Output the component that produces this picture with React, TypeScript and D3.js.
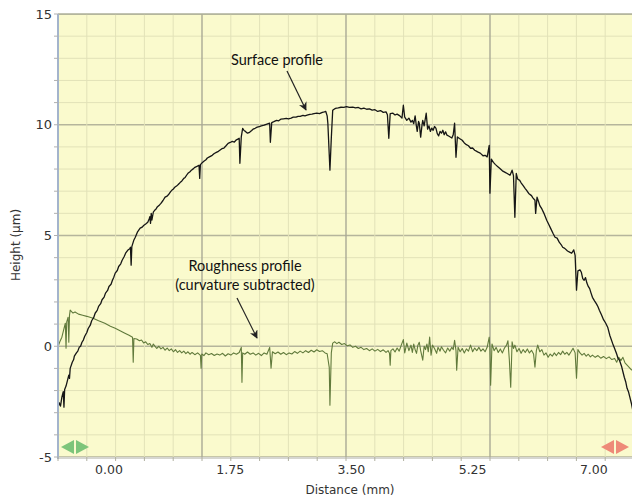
import React from "react";
import * as d3 from "d3";

const yTickValues = [-5, 0, 5, 10, 15];
const xTickValues = [0, 1.75, 3.5, 5.25, 7.0];
const xTitle = "Distance (mm)";
const yTitle = "Height (µm)";
const surfaceLabel = "Surface profile";
const roughLabel1 = "Roughness profile";
const roughLabel2 = "(curvature subtracted)";

// [distance mm, height µm]
const surfaceProfile: [number, number][] = [
  [-0.74,-2.85],[-0.72,-2.55],[-0.70,-2.70],[-0.68,-2.30],[-0.66,-2.05],[-0.65,-2.75],[-0.64,-1.95],[-0.62,-1.80],
  [-0.60,-1.55],[-0.58,-1.30],[-0.57,-1.45],[-0.56,-1.00],[-0.53,-0.72],[-0.51,-0.60],[-0.50,-0.45],[-0.47,-0.30],
  [-0.45,-0.22],[-0.43,-0.05],[-0.41,0.00],[-0.39,0.18],[-0.37,0.28],[-0.35,0.45],[-0.32,0.62],[-0.30,0.80],
  [-0.27,0.95],[-0.25,1.15],[-0.22,1.30],[-0.20,1.49],[-0.17,1.62],[-0.15,1.80],[-0.12,1.92],[-0.10,2.10],
  [-0.07,2.22],[-0.05,2.40],[-0.02,2.52],[0.00,2.70],[0.03,2.80],[0.05,2.98],[0.07,3.12],[0.09,3.30],
  [0.12,3.42],[0.14,3.60],[0.17,3.72],[0.19,3.88],[0.22,4.05],[0.24,4.20],[0.27,4.33],[0.30,4.40],
  [0.31,4.47],[0.32,3.66],[0.33,4.50],[0.36,4.80],[0.38,4.92],[0.41,5.15],[0.45,5.33],[0.48,5.38],
  [0.50,5.45],[0.53,5.52],[0.56,5.60],[0.58,5.75],[0.59,5.85],[0.60,5.55],[0.61,6.00],[0.62,5.70],
  [0.64,6.05],[0.66,6.14],[0.68,6.20],[0.70,6.30],[0.73,6.38],[0.75,6.45],[0.78,6.58],[0.81,6.73],
  [0.84,6.78],[0.86,6.85],[0.89,6.98],[0.91,7.05],[0.93,7.10],[0.95,7.18],[0.98,7.25],[1.00,7.30],
  [1.03,7.40],[1.05,7.45],[1.08,7.58],[1.10,7.62],[1.12,7.72],[1.14,7.81],[1.17,7.88],[1.19,7.95],
  [1.22,8.02],[1.24,8.08],[1.27,8.12],[1.30,8.17],[1.31,7.58],[1.32,8.20],[1.35,8.30],[1.37,8.35],
  [1.40,8.42],[1.42,8.50],[1.45,8.55],[1.49,8.62],[1.52,8.70],[1.55,8.75],[1.58,8.80],[1.60,8.85],
  [1.63,8.92],[1.66,8.95],[1.69,9.05],[1.72,9.16],[1.75,9.20],[1.78,9.25],[1.81,9.22],[1.84,9.32],
  [1.86,9.35],[1.88,9.39],[1.89,8.26],[1.91,9.45],[1.93,9.84],[1.95,9.74],[1.97,9.70],[2.00,9.62],
  [2.03,9.66],[2.06,9.74],[2.08,9.80],[2.11,9.84],[2.14,9.89],[2.17,9.92],[2.20,9.95],[2.24,9.98],
  [2.27,10.02],[2.30,10.05],[2.32,10.07],[2.33,9.21],[2.35,10.10],[2.38,10.14],[2.42,10.20],[2.45,10.18],
  [2.48,10.25],[2.52,10.27],[2.56,10.29],[2.59,10.26],[2.63,10.30],[2.66,10.34],[2.70,10.34],[2.73,10.38],
  [2.76,10.38],[2.80,10.42],[2.83,10.40],[2.86,10.43],[2.90,10.47],[2.93,10.48],[2.96,10.50],[3.00,10.52],
  [3.04,10.50],[3.08,10.56],[3.11,10.58],[3.13,10.60],[3.15,10.40],[3.16,10.07],[3.19,7.95],[3.21,9.40],
  [3.23,10.65],[3.25,10.70],[3.27,10.74],[3.31,10.76],[3.35,10.79],[3.39,10.78],[3.43,10.82],[3.47,10.78],
  [3.52,10.80],[3.56,10.76],[3.60,10.78],[3.64,10.72],[3.68,10.75],[3.72,10.70],[3.76,10.72],[3.80,10.66],
  [3.84,10.68],[3.88,10.60],[3.92,10.64],[3.96,10.56],[4.00,10.58],[4.02,10.45],[4.04,9.39],[4.06,10.50],
  [4.10,10.52],[4.13,10.44],[4.16,10.48],[4.20,10.40],[4.23,10.30],[4.25,10.88],[4.27,10.34],[4.30,10.20],
  [4.33,10.30],[4.36,10.12],[4.38,10.20],[4.40,10.05],[4.42,10.40],[4.44,9.90],[4.45,9.70],[4.47,10.15],
  [4.48,10.07],[4.50,9.44],[4.52,10.00],[4.53,10.20],[4.55,9.95],[4.58,10.52],[4.60,9.80],[4.62,9.95],
  [4.64,9.70],[4.66,9.85],[4.68,9.75],[4.70,9.92],[4.72,9.85],[4.74,9.60],[4.76,9.50],[4.78,9.70],
  [4.80,9.62],[4.82,9.75],[4.84,9.55],[4.86,9.68],[4.88,9.53],[4.91,9.48],[4.95,9.40],[4.97,9.55],
  [4.99,10.07],[5.01,8.53],[5.03,9.45],[5.06,9.38],[5.10,9.30],[5.13,9.18],[5.16,9.10],[5.19,9.05],
  [5.22,8.94],[5.25,8.95],[5.28,8.85],[5.31,8.80],[5.33,8.76],[5.36,8.72],[5.40,8.60],[5.43,8.62],
  [5.46,8.55],[5.49,9.07],[5.50,6.91],[5.52,8.45],[5.55,8.30],[5.58,8.20],[5.61,8.12],[5.64,8.04],
  [5.68,7.92],[5.72,7.85],[5.75,7.80],[5.79,7.72],[5.82,7.95],[5.84,7.70],[5.86,5.82],[5.88,7.80],
  [5.90,7.55],[5.93,7.49],[5.95,7.38],[5.98,7.25],[6.01,7.12],[6.03,7.04],[6.06,6.90],[6.10,6.80],
  [6.12,6.70],[6.15,6.59],[6.16,6.00],[6.18,6.73],[6.20,6.55],[6.22,6.35],[6.25,6.20],[6.28,6.00],
  [6.32,5.69],[6.35,5.50],[6.38,5.30],[6.41,5.10],[6.44,4.92],[6.47,4.88],[6.50,4.70],[6.53,4.58],
  [6.55,4.47],[6.58,4.42],[6.62,4.30],[6.65,4.25],[6.68,4.20],[6.71,4.35],[6.73,4.10],[6.75,2.53],
  [6.77,3.40],[6.80,3.45],[6.82,3.34],[6.84,3.05],[6.86,2.98],[6.88,3.10],[6.90,2.85],[6.92,2.70],
  [6.94,2.60],[6.96,2.40],[6.98,2.21],[7.01,2.05],[7.04,1.90],[7.06,1.78],[7.08,1.63],[7.11,1.42],
  [7.14,1.20],[7.17,1.05],[7.20,0.86],[7.23,0.50],[7.27,0.14],[7.30,-0.10],[7.33,-0.35],[7.35,-0.55],
  [7.37,-0.63],[7.40,-0.90],[7.42,-1.15],[7.44,-1.40],[7.46,-1.60],[7.48,-1.90],[7.50,-2.05],[7.52,-2.30],
  [7.54,-2.55],[7.56,-2.85],
];

// [distance mm, height µm]
const roughnessProfile: [number, number][] = [
  [-0.74,-0.05],[-0.71,0.20],[-0.68,0.41],[-0.65,0.80],[-0.63,1.04],[-0.62,-0.09],[-0.61,1.10],[-0.59,1.31],
  [-0.58,0.18],[-0.57,1.40],[-0.56,1.63],[-0.52,1.50],[-0.49,1.55],[-0.44,1.45],[-0.38,1.40],[-0.32,1.35],
  [-0.23,1.26],[-0.15,1.15],[-0.06,1.04],[0.02,0.90],[0.09,0.81],[0.16,0.70],[0.23,0.59],[0.29,0.50],
  [0.34,0.41],[0.35,-0.72],[0.36,0.35],[0.40,0.33],[0.44,0.25],[0.47,0.28],[0.50,0.15],[0.53,0.20],
  [0.56,0.08],[0.59,0.12],[0.62,-0.05],[0.64,0.10],[0.66,0.02],[0.69,-0.10],[0.72,0.00],[0.75,-0.12],
  [0.78,-0.05],[0.81,-0.18],[0.84,-0.08],[0.87,-0.20],[0.90,-0.12],[0.93,-0.25],[0.96,-0.15],[0.99,-0.28],
  [1.02,-0.20],[1.05,-0.30],[1.08,-0.22],[1.11,-0.33],[1.14,-0.25],[1.17,-0.36],[1.20,-0.28],[1.24,-0.38],
  [1.28,-0.30],[1.32,-0.41],[1.33,-0.99],[1.34,-0.35],[1.37,-0.42],[1.40,-0.30],[1.44,-0.38],[1.48,-0.33],
  [1.52,-0.42],[1.56,-0.35],[1.60,-0.40],[1.64,-0.32],[1.68,-0.44],[1.72,-0.34],[1.76,-0.40],[1.80,-0.30],
  [1.84,-0.36],[1.88,-0.28],[1.91,-0.05],[1.92,-1.63],[1.93,-0.30],[1.96,-0.36],[2.00,-0.26],[2.04,-0.36],
  [2.08,-0.30],[2.12,-0.40],[2.16,-0.32],[2.20,-0.42],[2.24,-0.30],[2.28,-0.36],[2.32,-0.05],[2.34,-0.99],
  [2.36,-0.25],[2.40,-0.34],[2.44,-0.26],[2.48,-0.36],[2.52,-0.28],[2.56,-0.38],[2.60,-0.30],[2.64,-0.35],
  [2.68,-0.24],[2.72,-0.32],[2.76,-0.22],[2.80,-0.30],[2.84,-0.20],[2.88,-0.28],[2.92,-0.18],[2.96,-0.26],
  [3.00,-0.16],[3.04,-0.24],[3.08,-0.20],[3.12,-0.30],[3.15,-0.34],[3.18,-0.95],[3.19,-2.66],[3.21,-0.30],
  [3.23,0.14],[3.26,0.20],[3.29,0.12],[3.32,0.18],[3.36,0.08],[3.40,0.12],[3.44,0.02],[3.48,0.06],
  [3.52,-0.05],[3.56,0.00],[3.60,-0.10],[3.64,-0.05],[3.68,-0.15],[3.72,-0.10],[3.76,-0.20],[3.80,-0.12],
  [3.84,-0.22],[3.88,-0.14],[3.92,-0.24],[3.96,-0.16],[4.00,-0.28],[4.03,-0.20],[4.05,-0.32],[4.06,-0.86],
  [4.07,-0.20],[4.10,-0.12],[4.13,-0.26],[4.16,-0.08],[4.19,-0.22],[4.22,0.05],[4.25,0.30],[4.27,-0.30],
  [4.30,0.14],[4.33,-0.20],[4.36,0.05],[4.38,-0.28],[4.40,0.10],[4.42,-0.15],[4.44,-0.32],[4.46,0.05],
  [4.48,0.18],[4.50,-0.20],[4.53,-0.63],[4.55,0.00],[4.57,-0.15],[4.59,0.10],[4.61,-0.25],[4.63,0.41],
  [4.65,-0.40],[4.67,0.05],[4.70,-0.10],[4.73,-0.32],[4.75,-0.05],[4.78,-0.22],[4.80,-0.02],[4.83,-0.18],
  [4.86,-0.30],[4.89,-0.08],[4.92,-0.22],[4.95,-0.05],[4.97,-0.15],[4.99,0.27],[5.01,-0.20],[5.02,-1.08],
  [5.04,-0.05],[5.07,-0.25],[5.10,-0.10],[5.13,-0.30],[5.16,-0.12],[5.19,-0.22],[5.22,0.05],[5.25,-0.25],
  [5.28,-0.08],[5.31,-0.20],[5.34,-0.05],[5.37,-0.22],[5.40,-0.12],[5.43,-0.25],[5.46,-0.05],[5.49,0.41],
  [5.50,-0.10],[5.51,-1.76],[5.53,0.10],[5.56,-0.20],[5.59,-0.05],[5.62,-0.28],[5.65,-0.12],[5.68,-0.30],
  [5.71,-0.08],[5.74,0.05],[5.76,0.25],[5.78,-0.60],[5.80,-1.85],[5.82,0.20],[5.84,-0.10],[5.86,0.05],
  [5.89,-0.25],[5.92,-0.10],[5.95,-0.32],[5.98,-0.15],[6.01,-0.28],[6.04,-0.12],[6.07,-0.30],[6.10,-0.18],
  [6.13,-0.35],[6.15,-0.95],[6.17,-0.20],[6.19,0.05],[6.22,-0.25],[6.25,-0.15],[6.28,-0.40],[6.31,-0.30],
  [6.34,-0.50],[6.37,-0.35],[6.40,-0.45],[6.43,-0.30],[6.46,-0.42],[6.49,-0.28],[6.52,-0.38],[6.55,-0.22],
  [6.58,-0.36],[6.61,-0.28],[6.64,-0.40],[6.67,-0.25],[6.70,-0.09],[6.73,-0.30],[6.75,-1.44],[6.77,-0.15],
  [6.80,-0.30],[6.83,-0.40],[6.86,-0.32],[6.89,-0.45],[6.92,-0.36],[6.95,-0.48],[6.98,-0.40],[7.02,-0.50],
  [7.06,-0.42],[7.10,-0.54],[7.14,-0.46],[7.18,-0.56],[7.22,-0.48],[7.26,-0.60],[7.30,-0.55],[7.33,-0.72],
  [7.36,-0.50],[7.39,-0.65],[7.42,-0.50],[7.45,-0.75],[7.48,-0.85],[7.51,-0.95],[7.54,-1.05],[7.56,-1.10],
];

const W = 632;
const H = 499;
const L = 58;
const R = 634;
const T = 14;
const B = 457;
const X_DOMAIN: [number, number] = [-0.736, 7.58];
const Y_DOMAIN: [number, number] = [-5, 15];

export default function App() {
  const x = d3.scaleLinear().domain(X_DOMAIN).range([L, R]);
  const y = d3.scaleLinear().domain(Y_DOMAIN).range([B, T]);

  const xGrid = d3.range(0, 21).map((i) => X_DOMAIN[0] + (i * (X_DOMAIN[1] - X_DOMAIN[0])) / 20);
  const yGrid = d3.range(Y_DOMAIN[0], Y_DOMAIN[1] + 0.001, 1);

  const line = d3
    .line<[number, number]>()
    .x((d) => x(d[0]))
    .y((d) => y(d[1]));

  const tickFont = "'DejaVu Sans', Verdana, sans-serif";
  const noteFont = "Lato, 'Open Sans', sans-serif";

  return (
    <svg
      width={W}
      height={H}
      style={{ position: "absolute", left: 0, top: 0, background: "#ffffff" }}
    >
      <defs>
        <clipPath id="plot">
          <rect x={L} y={T} width={W - L} height={B - T} />
        </clipPath>
        <marker id="ah" viewBox="0 0 10 10" refX="9" refY="5" markerWidth="7" markerHeight="7" orient="auto">
          <path d="M0,0 L10,5 L0,10 L3,5 Z" fill="#222" />
        </marker>
      </defs>
      <rect x={L} y={T} width={W - L} height={B - T} fill="#FAFACD" />
      <g clipPath="url(#plot)">
        {yGrid.map((v) => (
          <line
            key={"yg" + v}
            x1={L}
            x2={W}
            y1={y(v)}
            y2={y(v)}
            stroke={v % 5 === 0 ? "#B5B59C" : "#E2E2B8"}
            strokeWidth={v % 5 === 0 ? 1.4 : 1}
          />
        ))}
        {xGrid.map((v, i) => (
          <line
            key={"xg" + i}
            x1={x(v)}
            x2={x(v)}
            y1={T}
            y2={B}
            stroke={i % 5 === 0 ? "#A9A996" : "#E2E2B8"}
            strokeWidth={i % 5 === 0 ? 1.4 : 1}
          />
        ))}
        <path d={line(roughnessProfile) || ""} fill="none" stroke="#617A3C" strokeWidth={1.1} strokeLinejoin="round" />
        <path d={line(surfaceProfile) || ""} fill="none" stroke="#161616" strokeWidth={1.3} strokeLinejoin="round" />
      </g>
      <line x1={L} x2={W} y1={T} y2={T} stroke="#AEB09A" strokeWidth={1.5} />
      <line x1={L} x2={W} y1={B + 1} y2={B + 1} stroke="#C8C8C0" strokeWidth={1.5} />
      <line x1={L} x2={L} y1={T} y2={B + 2} stroke="#A4B4CC" strokeWidth={2} />
      {yGrid.map((v) => (
        <line key={"yt" + v} x1={L - 4} x2={L} y1={y(v)} y2={y(v)} stroke="#B0B0B0" strokeWidth={1} />
      ))}
      {xGrid.map((v, i) => (
        <line key={"xt" + i} x1={x(v)} x2={x(v)} y1={B} y2={B + 4} stroke="#B0B0A0" strokeWidth={1} />
      ))}
      {yTickValues.map((v) => (
        <text
          key={"yl" + v}
          x={L - 6}
          y={y(v)}
          dy="0.36em"
          textAnchor="end"
          fontFamily={tickFont}
          fontSize={13}
          fill="#333"
        >
          {v}
        </text>
      ))}
      {xTickValues.map((v) => (
        <text
          key={"xl" + v}
          x={x(v)}
          y={B + 17}
          textAnchor="middle"
          fontFamily={tickFont}
          fontSize={12.5}
          fill="#333"
        >
          {v.toFixed(2)}
        </text>
      ))}
      <text x={350} y={494} textAnchor="middle" fontFamily={tickFont} fontSize={12} fill="#333">
        {xTitle}
      </text>
      <text
        transform="translate(20,245) rotate(-90)"
        textAnchor="middle"
        fontFamily={tickFont}
        fontSize={12}
        fill="#333"
      >
        {yTitle}
      </text>
      <text x={277} y={65} textAnchor="middle" fontFamily={noteFont} fontSize={14.5} fill="#111">
        {surfaceLabel}
      </text>
      <line x1={287} y1={71} x2={306} y2={110} stroke="#222" strokeWidth={1.2} markerEnd="url(#ah)" />
      <text x={245} y={271} textAnchor="middle" fontFamily={noteFont} fontSize={14.5} fill="#111">
        {roughLabel1}
      </text>
      <text x={245} y={290} textAnchor="middle" fontFamily={noteFont} fontSize={14.5} fill="#111">
        {roughLabel2}
      </text>
      <line x1={237} y1={298} x2={257} y2={338} stroke="#222" strokeWidth={1.2} markerEnd="url(#ah)" />
      <g fill="#7DC57A">
        <path d="M61,447 L74,440 L74,454 Z" />
        <path d="M89,447 L76,440 L76,454 Z" />
      </g>
      <g fill="#EE8A78">
        <path d="M601,447 L614,440 L614,454 Z" />
        <path d="M629,447 L616,440 L616,454 Z" />
      </g>
    </svg>
  );
}
